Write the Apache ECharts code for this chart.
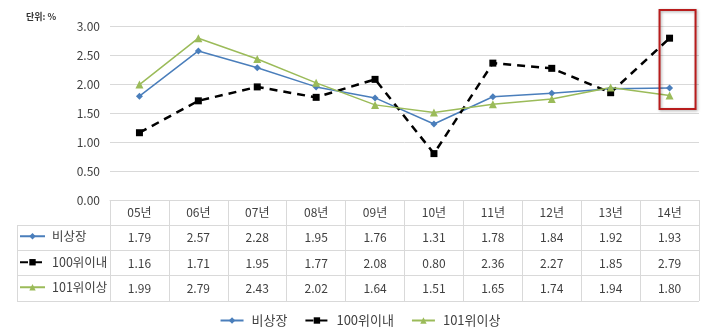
<!DOCTYPE html>
<html><head><meta charset="utf-8">
<script src="https://cdn.jsdelivr.net/npm/echarts@6/dist/echarts.min.js"></script>
<style>html,body{margin:0;padding:0;background:#fff}#c{width:720px;height:336px}</style>
</head><body><div id="c"></div>
<script>
var categories = ['05년','06년','07년','08년','09년','10년','11년','12년','13년','14년'];
var seriesNames = ['비상장','100위이내','101위이상'];
var unlisted = [1.79,2.57,2.28,1.95,1.76,1.31,1.78,1.84,1.92,1.93];
var top100 = [1.16,1.71,1.95,1.77,2.08,0.80,2.36,2.27,1.85,2.79];
var over101 = [1.99,2.79,2.43,2.02,1.64,1.51,1.65,1.74,1.94,1.80];
var yTicks = [0,0.5,1,1.5,2,2.5,3];

var FONT = '"Noto Sans CJK KR", sans-serif';
var TXT = '#404040';
var GRID = '#d9d9d9';
var colors = ['#4a7ebb','#000000','#9bbb59'];
var rowVals = [unlisted, top100, over101];

var chart = echarts.init(document.getElementById('c'));

function rowAxis(i, off) {
  return {
    type:'category', data: categories, position:'bottom', offset: off,
    axisLine:{show:false}, axisTick:{show:false}, splitLine:{show:false},
    axisLabel:{margin:6, fontSize:12, color:TXT, fontFamily:FONT,
      formatter:function(v, idx){ return rowVals[i][idx].toFixed(2); }}
  };
}
function rowLegend(i, top) {
  return {
    data:[seriesNames[i]], left:19, top:top, padding:0, orient:'horizontal',
    itemWidth:25, itemHeight:8, itemGap:0, selectedMode:false,
    textStyle:{fontSize:12.5, color:TXT, fontFamily:FONT, padding:[0,0,0,2]}
  };
}

var option = {
  animation:false,
  textStyle:{fontFamily:FONT},
  grid:{left:110, right:21, top:26, bottom:136, containLabel:false},
  legend:[
    {data:seriesNames, left:'center', bottom:9, padding:0, itemWidth:23, itemHeight:8, itemGap:17,
     selectedMode:false, textStyle:{fontSize:13, color:TXT, fontFamily:FONT, padding:[0,0,0,3]}},
    rowLegend(0, 230), rowLegend(1, 256), rowLegend(2, 281)
  ],
  xAxis:[
    {type:'category', data:categories, boundaryGap:true,
     axisLine:{show:true, lineStyle:{color:GRID, width:1}},
     axisTick:{show:true, interval:0, length:101, lineStyle:{color:GRID, width:1}},
     axisLabel:{margin:6, fontSize:12, color:TXT, fontFamily:FONT}},
    rowAxis(0, 25), rowAxis(1, 51), rowAxis(2, 76)
  ],
  yAxis:{type:'value', min:yTicks[0], max:yTicks[yTicks.length-1], interval:0.5,
    axisLine:{show:false}, axisTick:{show:false},
    splitLine:{lineStyle:{color:GRID, width:1}},
    axisLabel:{margin:10, fontSize:12, color:TXT, fontFamily:FONT,
      formatter:function(v){return v.toFixed(2);}}},
  series:[
    {name:seriesNames[0], type:'line', data:unlisted, color:colors[0],
     symbol:'diamond', symbolSize:7, lineStyle:{width:1.5, color:colors[0]}, itemStyle:{color:colors[0]}},
    {name:seriesNames[1], type:'line', data:top100, color:colors[1],
     symbol:'rect', symbolSize:7, lineStyle:{width:2.5, type:[8,6], color:colors[1]}, itemStyle:{color:colors[1]}},
    {name:seriesNames[2], type:'line', data:over101, color:colors[2],
     symbol:'triangle', symbolSize:8, lineStyle:{width:1.5, color:colors[2]}, itemStyle:{color:colors[2]}}
  ],
  graphic:[]
};
chart.setOption(option);

// table frame lines and annotation
var rowYs = [225, 250, 275, 301];
var g = [];
rowYs.forEach(function(y){
  g.push({type:'line', shape:{x1:17, y1:y+0.5, x2:699, y2:y+0.5}, style:{stroke:GRID, lineWidth:1}, silent:true});
});
g.push({type:'line', shape:{x1:17.5, y1:225, x2:17.5, y2:301}, style:{stroke:GRID, lineWidth:1}, silent:true});
g.push({type:'text', left:26, top:12, style:{text:'단위: %', font:'bold 9px '+FONT, fill:'#333'}, silent:true});
var p = chart.convertToPixel({xAxisIndex:0, yAxisIndex:0}, [categories.length-1, yTicks[yTicks.length-1]]);
g.push({type:'rect', shape:{x:p[0]-10, y:10, width:36, height:99},
  style:{stroke:'#b81c1c', lineWidth:2, fill:'none', shadowBlur:3, shadowColor:'rgba(0,0,0,0.35)', shadowOffsetX:1, shadowOffsetY:1}, silent:true, z:100});
chart.setOption({graphic:g});
</script>
</body></html>
